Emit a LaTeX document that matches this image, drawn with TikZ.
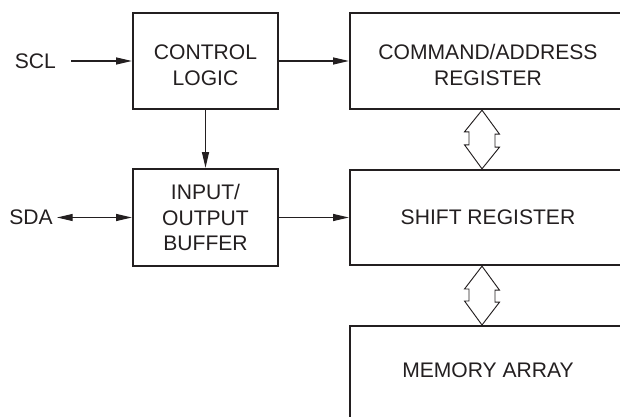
\documentclass[tikz,border=0pt]{standalone}
\usepackage{fontspec}
\setmainfont{Liberation Sans}
\usepackage{tikz}
\usetikzlibrary{arrows.meta, positioning, calc}
\definecolor{inkcolor}{RGB}{35,31,32}

\begin{document}
\begin{tikzpicture}[
    blk/.style={draw=inkcolor, line width=2pt, rectangle, inner sep=0pt, align=center, text=inkcolor, font=\fontsize{18}{22}\selectfont},
    pin/.style={text=inkcolor, font=\fontsize{18}{22}\selectfont},
    sig/.style={-{Triangle[length=4.7mm, width=2.1mm]}, line width=0.9pt, draw=inkcolor},
    bus/.style={line width=0.8pt, draw=inkcolor, line join=miter}
]
    \useasboundingbox (0,0) rectangle (18.6,12.51);

    % Blocs de gauche
    \node[blk, minimum width=4.35cm, minimum height=2.88cm, text height=42pt] (ctrl) at (6.165,10.68) {CONTROL\\LOGIC};
    \node[blk, minimum width=4.35cm, minimum height=2.91cm] (iobuf) at (6.165,5.985) {INPUT/\\OUTPUT\\BUFFER};

    % Blocs de droite
    \node[blk, minimum width=8.28cm, minimum height=2.88cm, text height=42pt] (cmd) at (14.64,10.68) {COMMAND/ADDRESS\\REGISTER};
    \node[blk, minimum width=8.28cm, minimum height=2.85cm] (shift) at (14.64,5.985) {SHIFT REGISTER};
    \node[blk, minimum width=8.28cm, minimum height=3.2cm, anchor=north] (mem) at (14.64,2.76) {};
    \node[pin] (memtxt) at (14.64,1.41) {MEMORY ARRAY};

    % Broches
    \node[pin, anchor=east] (scl) at (1.80,10.68) {SCL};
    \node[pin, anchor=east, inner xsep=0.12cm] (sda) at (1.71,5.985) {SDA};

    % Signaux
    \draw[sig, shorten <=0.33cm] (scl.east) -- (ctrl.west);
    \draw[sig, {Triangle[length=4.7mm, width=2.1mm]}-{Triangle[length=4.7mm, width=2.1mm]}] (sda.east) -- (iobuf.west);
    \draw[sig] (ctrl.south) -- (iobuf.north);
    \draw[sig] (ctrl.east) -- (cmd.west);
    \draw[sig] (iobuf.east) -- (shift.west);

    % Bus doubles
    \coordinate (ca) at ($(cmd.south)+(-0.18,0)$);
    \coordinate (sa) at (ca |- shift.north);
    \draw[bus] (ca) -- ++(0.525,-0.72) -- ++(-0.135,0) -- ++(0,-0.39) -- ++(0.135,0) -- (sa)
        -- ++(-0.525,0.72) -- ++(0.135,0) -- ++(0,0.39) -- ++(-0.135,0) -- cycle;
    \coordinate (sb) at ($(shift.south)+(-0.18,0)$);
    \coordinate (mb) at (sb |- mem.north);
    \draw[bus] (sb) -- ++(0.525,-0.72) -- ++(-0.135,0) -- ++(0,-0.36) -- ++(0.135,0) -- (mb)
        -- ++(-0.525,0.72) -- ++(0.135,0) -- ++(0,0.36) -- ++(-0.135,0) -- cycle;
\end{tikzpicture}
\end{document}
